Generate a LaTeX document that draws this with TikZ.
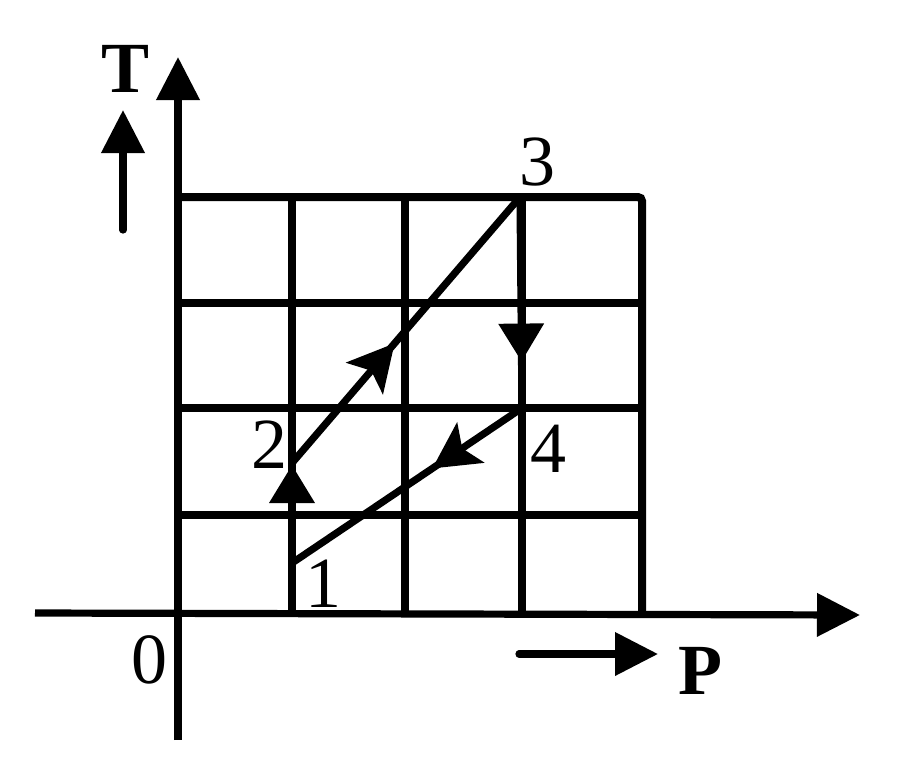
\documentclass[tikz,border=0pt]{standalone}
\usepackage{fontspec}
\setmainfont{Liberation Serif}
\usetikzlibrary{arrows.meta,decorations.markings}
\begin{document}
\begin{tikzpicture}[x=0.5pt,y=-0.5pt,
  gridline/.style={line width=4pt},
  axisline/.style={line width=3.6pt},
  procline/.style={line width=3.6pt},
  bigtip/.style={-{Triangle[length=21.5pt,width=21pt]}},
  lbl/.style={font=\fontsize{36}{36}\selectfont, inner sep=0pt},
  blbl/.style={font=\fontsize{36}{36}\selectfont\bfseries, inner sep=0pt},
  midtip/.style={postaction={decorate},decoration={markings,
     mark=at position #1 with {\arrow{Stealth[length=23pt,width=24pt,inset=5pt]}}}},
  midtri/.style={postaction={decorate},decoration={markings,
     mark=at position #1 with {\arrow{Triangle[length=19pt,width=22pt]}}}}
]
\useasboundingbox (0,0) rectangle (900,783);
% grid
\foreach \x in {292,405,522}{\draw[gridline] (\x,197) -- (\x,613);}
\foreach \y in {303,408,515}{\draw[gridline] (180,\y) -- (642,\y);}
\draw[gridline, rounded corners=2pt] (180,197) -- (642,197) -- (642,613);
% axes
\coordinate (xs) at (35,613);
\coordinate (xe) at (860,615);
\coordinate (ys) at (178,740);
\coordinate (ye) at (178,57);
\draw[axisline,bigtip] (xs) -- (xe);
\draw[axisline,bigtip] (ys) -- (ye);
% axis direction arrows
\coordinate (ta) at (123,230);
\coordinate (tb) at (123,110);
\draw[axisline,bigtip,line cap=round] (ta) -- (tb);
\coordinate (pa) at (519,654);
\coordinate (pb) at (658,654);
\draw[axisline,bigtip,line cap=round] (pa) -- (pb);
% states
\coordinate (s1) at (292,563);
\coordinate (s2) at (292,463);
\coordinate (s3) at (520,197);
\coordinate (s4) at (522,408);
\draw[procline,midtri=0.98] (s1) -- (s2);
\draw[procline,midtip=0.45] (s2) -- (s3);
\draw[procline,midtri=0.78] (s3) -- (s4);
\draw[procline,midtip=0.39] (s4) -- (s1);
% labels
\node[blbl] (T) at (126,69) {T};
\node[blbl] (P) at (700,671) {P};
\node[lbl] (zero) at (149,660) {0};
\node[lbl] (l1) at (323,584) {1};
\node[lbl] (l2) at (269,445) {2};
\node[lbl] (l3) at (537,162) {3};
\node[lbl] (l4) at (548,449) {4};
\end{tikzpicture}
\end{document}
